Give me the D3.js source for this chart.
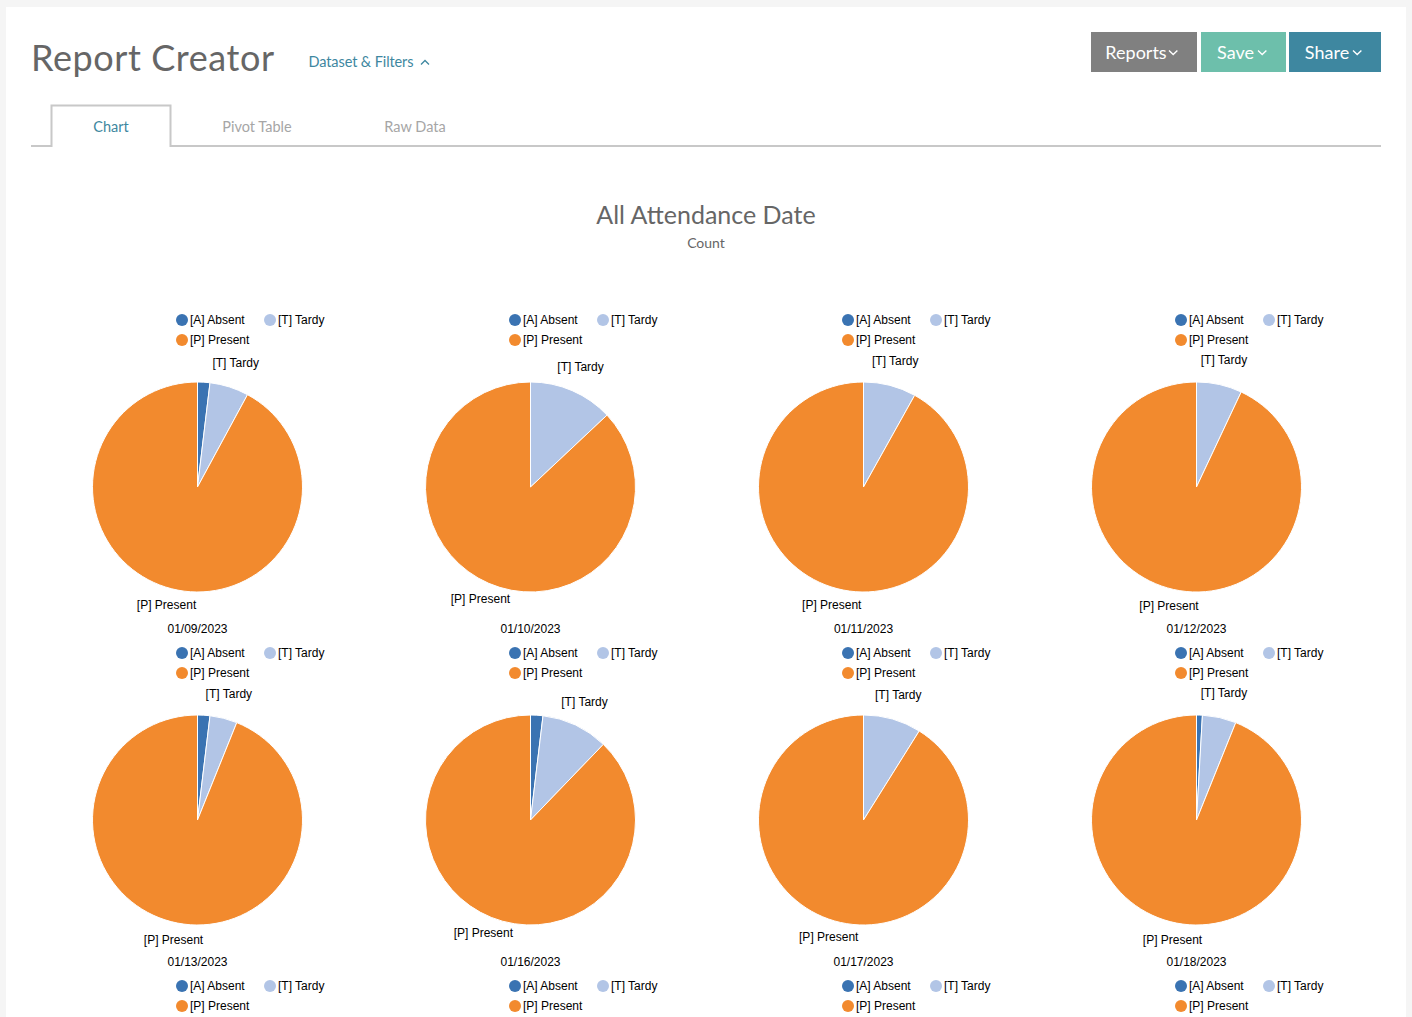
<!DOCTYPE html>
<html>
<head>
<meta charset="utf-8">
<title>Report Creator</title>
<script src="https://cdn.jsdelivr.net/npm/d3@7"></script>
<style>
    html, body { margin: 0; padding: 0; background: #f5f5f5; overflow: hidden; }
    svg { display: block; }
    .ui { font-family: Lato, "Open Sans", sans-serif; }
    .lbl { font-family: "Liberation Sans", Arial, sans-serif; font-size: 12px; fill: #000; }
</style>
</head>
<body>
<svg id="page" width="1412" height="1017"></svg>
<script>
const dates = ["01/09/2023", "01/10/2023", "01/11/2023", "01/12/2023",
               "01/13/2023", "01/16/2023", "01/17/2023", "01/18/2023"];
const statuses = ["[A] Absent", "[T] Tardy", "[P] Present"];
const absent  = [1.9, 0,  0,   0, 1.9, 1.9,  0,   0.9];
const tardy   = [6.0, 13, 8.1, 7, 4.2, 10.3, 8.9, 5.2];
const present = [92.1, 87, 91.9, 93, 93.9, 87.8, 91.1, 93.9];
const statusColors = ["#3a73b2", "#b2c5e6", "#f28a2e"];

const buttons = ["Reports", "Save", "Share"];
const buttonColors = ["#808080", "#6dbfab", "#3e87a0"];
const buttonX = [1091, 1201, 1289];
const buttonW = [106, 85, 92];

const tabs = ["Chart", "Pivot Table", "Raw Data"];
const tabX = [111, 257, 415];

const svg = d3.select("#page");

// white panel behind everything
svg.append("rect").attr("x", 6).attr("y", 7).attr("width", 1400).attr("height", 1010).attr("fill", "#fff");

// header
svg.append("text").attr("class", "ui").attr("x", 31).attr("y", 71)
    .attr("font-size", 36).attr("fill", "#666").attr("textLength", 243)
    .text("Report Creator");
svg.append("text").attr("class", "ui").attr("x", 308.5).attr("y", 66.5)
    .attr("font-size", 14.5).attr("fill", "#3e87a0").attr("textLength", 105)
    .text("Dataset & Filters");
svg.append("path").attr("d", "M421 64.5l4-4 4 4").attr("fill", "none")
    .attr("stroke", "#3e87a0").attr("stroke-width", 1.3);

// buttons
const btn = svg.selectAll(".btn").data(buttons).enter().append("g").attr("class", "btn")
    .attr("transform", (d, i) => `translate(${buttonX[i]},32)`);
btn.append("rect").attr("width", (d, i) => buttonW[i]).attr("height", 40)
    .attr("fill", (d, i) => buttonColors[i]);
btn.append("text").attr("class", "ui").attr("x", (d, i) => buttonW[i] / 2 - 8).attr("y", 27)
    .attr("text-anchor", "middle").attr("font-size", 18).attr("fill", "#fff").text(d => d);
btn.append("path").attr("d", (d, i) => `M${buttonW[i] - 28} 18.5l4.2 4 4.2-4`).attr("fill", "none")
    .attr("stroke", "#fff").attr("stroke-width", 1.4);

// tabs
svg.append("path").attr("d", "M31 146H51.5V105.5H170.5V146H1381").attr("fill", "none")
    .attr("stroke", "#c8c8c8").attr("stroke-width", 2);
svg.selectAll(".tab").data(tabs).enter().append("text").attr("class", "tab ui")
    .attr("x", (d, i) => tabX[i]).attr("y", 132).attr("text-anchor", "middle")
    .attr("font-size", 14.5).attr("fill", (d, i) => i == 0 ? "#3e87a0" : "#a6a6a6")
    .text(d => d);

// chart titles
svg.append("text").attr("class", "ui").attr("x", 706).attr("y", 224).attr("text-anchor", "middle")
    .attr("font-size", 25).attr("fill", "#666").text("All Attendance Date");
svg.append("text").attr("class", "ui").attr("x", 706).attr("y", 248).attr("text-anchor", "middle")
    .attr("font-size", 14).attr("fill", "#666").text("Count");

// small multiple grid
const xCol = d3.scaleLinear().domain([0, 3]).range([197.5, 1196.5]);
const yRow = d3.scaleLinear().domain([0, 1]).range([487, 820]);
const radius = 105;

const pie = d3.pie().sort(null);
const arc = d3.arc().innerRadius(0).outerRadius(radius);
const labelArc = d3.arc().innerRadius(126).outerRadius(126);

dates.forEach((date, i) => {
    const g = svg.append("g")
        .attr("transform", `translate(${xCol(i % 4)},${yRow(Math.floor(i / 4))})`);
    const slices = pie([absent[i], tardy[i], present[i]]);

    g.selectAll("path").data(slices).enter().append("path")
        .attr("d", arc)
        .attr("fill", (d, j) => statusColors[j])
        .attr("stroke", d => d.value > 0 ? "#fff" : "none")
        .attr("stroke-width", 1);

    // thin slices get no outside label
    g.selectAll("text.slice").data(slices.filter(d => d.value >= 3)).enter().append("text")
        .attr("class", "slice lbl")
        .attr("transform", d => `translate(${labelArc.centroid(d)})`)
        .attr("text-anchor", "middle")
        .text(d => statuses[d.index]);

    g.append("text").attr("class", "lbl").attr("y", 146).attr("text-anchor", "middle").text(date);
});

// legends, the third row runs off the bottom of the page
const legendDx = [-15.5, 72.5, -15.5];
const legendDy = [0, 0, 20];
d3.range(12).forEach(i => {
    const top = yRow(Math.floor(i / 4)) - 167;
    const lg = svg.append("g").attr("transform", `translate(${xCol(i % 4)},${top})`);
    const item = lg.selectAll("g").data(statuses).enter().append("g")
        .attr("transform", (d, j) => `translate(${legendDx[j]},${legendDy[j]})`);
    item.append("circle").attr("r", 6).attr("fill", (d, j) => statusColors[j]);
    item.append("text").attr("class", "lbl").attr("x", 8).attr("y", 4).text(d => d);
});
</script>
</body>
</html>
